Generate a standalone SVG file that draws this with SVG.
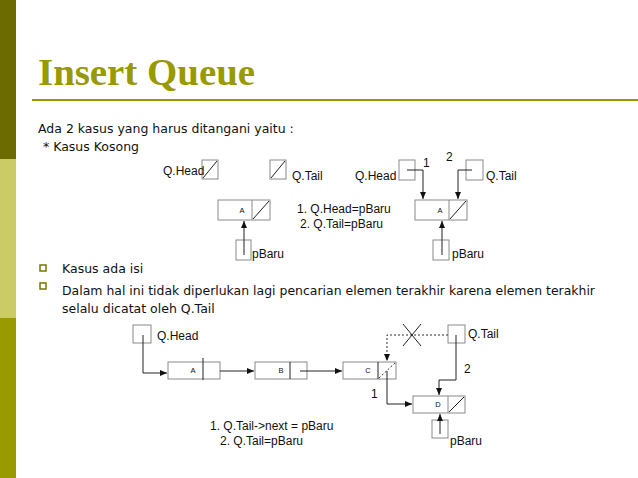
<svg xmlns="http://www.w3.org/2000/svg" width="638" height="478" viewBox="0 0 638 478">
<style>
.b{fill:#fff;stroke:#8a8a8a;stroke-width:1}
.l{fill:none;stroke:#222;stroke-width:1}
.d{fill:none;stroke:#333;stroke-width:1;stroke-dasharray:2,2}
.t{font-family:"Liberation Sans",Arial,sans-serif;font-size:12px;fill:#111}
.s{font-family:"Liberation Sans",Arial,sans-serif;font-size:7.5px;fill:#111;text-anchor:middle}
.v{font-family:"DejaVu Sans",Verdana,sans-serif;font-size:12.5px;fill:#111}
</style>
<defs>
<marker id="ar" markerWidth="8" markerHeight="8" refX="7" refY="4" orient="auto" markerUnits="userSpaceOnUse">
<path d="M0,1 L7,4 L0,7 z" fill="#111"/>
</marker>
</defs>
<rect x="0" y="0" width="16" height="159" fill="#6b6b00"/>
<rect x="0" y="159" width="16" height="159" fill="#cccc66"/>
<rect x="0" y="318" width="16" height="160" fill="#999900"/>
<text x="38" y="85" font-family="Liberation Serif,serif" font-weight="bold" font-size="37" fill="#999900" textLength="217" lengthAdjust="spacingAndGlyphs">Insert Queue</text>
<line x1="32" y1="100" x2="638" y2="100" stroke="#999900" stroke-width="2"/>
<text class="v" x="38" y="133">Ada 2 kasus yang harus ditangani yaitu :</text>
<text class="v" x="43" y="151">* Kasus Kosong</text>
<rect x="40" y="265" width="6" height="6" fill="none" stroke="#777700" stroke-width="1.5"/>
<rect x="40" y="283" width="6" height="6" fill="none" stroke="#777700" stroke-width="1.5"/>
<text class="v" x="62" y="273" font-size="13">Kasus ada isi</text>
<text class="v" x="62" y="295" font-size="13" textLength="533" lengthAdjust="spacingAndGlyphs">Dalam hal ini tidak diperlukan lagi pencarian elemen terakhir karena elemen terakhir</text>
<text class="v" x="62" y="313" font-size="13">selalu dicatat oleh Q.Tail</text>

<g id="d1-head"><rect class="b" x="202" y="160" width="16" height="19"/><line class="l" x1="203" y1="178" x2="217" y2="161"/><text class="t" x="163" y="175">Q.Head</text></g>
<g id="d1-tail"><rect class="b" x="270" y="160" width="16" height="19"/><line class="l" x1="271" y1="178" x2="285" y2="161"/><text class="t" x="292" y="180">Q.Tail</text></g>
<g id="d1-nodeA"><rect class="b" x="218" y="200" width="52" height="20"/><line class="b" x1="252" y1="200" x2="252" y2="220"/><line class="l" x1="253" y1="219" x2="269" y2="201"/><text class="s" x="242" y="213">A</text></g>
<g id="d1-pbaru"><rect class="b" x="236" y="240" width="15" height="20"/><text class="t" x="252" y="258">pBaru</text></g>
<text class="t" x="297" y="213">1. Q.Head=pBaru</text>
<text class="t" x="300" y="228">2. Q.Tail=pBaru</text>

<g id="d2-head"><rect class="b" x="399" y="160" width="16" height="20"/><text class="t" x="355" y="180">Q.Head</text></g>
<g id="d2-tail"><rect class="b" x="466" y="160" width="17" height="20"/><text class="t" x="486" y="180">Q.Tail</text></g>
<g id="d2-nodeA"><rect class="b" x="415" y="200" width="52" height="20"/><line class="b" x1="449" y1="200" x2="449" y2="220"/><line class="l" x1="450" y1="219" x2="466" y2="201"/><text class="s" x="440" y="213">A</text></g>
<g id="d2-pbaru"><rect class="b" x="433" y="240" width="16" height="20"/><text class="t" x="452" y="258">pBaru</text></g>
<text class="t" x="423" y="167">1</text>
<text class="t" x="446" y="161">2</text>

<g id="d3-head"><rect class="b" x="133" y="325" width="18" height="18"/><text class="t" x="157" y="340">Q.Head</text></g>
<g id="d3-A"><rect class="b" x="168" y="362" width="52" height="17"/><line class="l" x1="203" y1="358" x2="203" y2="380"/><text class="s" x="193" y="373">A</text></g>
<g id="d3-B"><rect class="b" x="255" y="362" width="52" height="17"/><line class="l" x1="290" y1="362" x2="290" y2="379"/><text class="s" x="281" y="373">B</text></g>
<g id="d3-C"><rect class="b" x="343" y="362" width="53" height="17"/><line class="l" x1="378" y1="362" x2="378" y2="379"/><line class="d" x1="379" y1="378" x2="395" y2="363"/><text class="s" x="368" y="373">C</text></g>
<g id="d3-tail"><rect class="b" x="448" y="325" width="17" height="18"/><text class="t" x="468" y="338">Q.Tail</text></g>
<g id="d3-D"><rect class="b" x="413" y="396" width="52" height="17"/><line class="b" x1="448" y1="396" x2="448" y2="413"/><line class="l" x1="449" y1="412" x2="464" y2="397"/><text class="s" x="438" y="407">D</text></g>
<g id="d3-pbaru"><rect class="b" x="432" y="420" width="16" height="18"/><text class="t" x="450" y="445">pBaru</text></g>
<text class="t" x="464" y="373">2</text>
<text class="t" x="371" y="398">1</text>
<text class="t" x="210" y="430">1. Q.Tail-&gt;next = pBaru</text>
<text class="t" x="220" y="445">2. Q.Tail=pBaru</text>

<g id="connectors">
<line class="l" x1="244" y1="255" x2="244" y2="221" marker-end="url(#ar)"/>
<polyline class="l" points="407,170 423,170 423,199" marker-end="url(#ar)"/>
<polyline class="l" points="472,170 458,170 458,199" marker-end="url(#ar)"/>
<line class="l" x1="442" y1="255" x2="442" y2="221" marker-end="url(#ar)"/>
<polyline class="l" points="143,335 143,373 167,373" marker-end="url(#ar)"/>
<line class="l" x1="220" y1="371" x2="254" y2="371" marker-end="url(#ar)"/>
<line class="l" x1="300" y1="371" x2="342" y2="371" marker-end="url(#ar)"/>
<polyline class="d" points="448,335 387,335 387,361" marker-end="url(#ar)"/>
<line class="l" x1="403" y1="324" x2="421" y2="346" stroke="#444"/>
<line class="l" x1="421" y1="324" x2="403" y2="346" stroke="#444"/>
<polyline class="l" points="456,335 456,380 439,380 439,395" marker-end="url(#ar)"/>
<polyline class="l" points="387,371 387,404 412,404" marker-end="url(#ar)"/>
<line class="l" x1="440" y1="434" x2="440" y2="414" marker-end="url(#ar)"/>
</g>
</svg>
